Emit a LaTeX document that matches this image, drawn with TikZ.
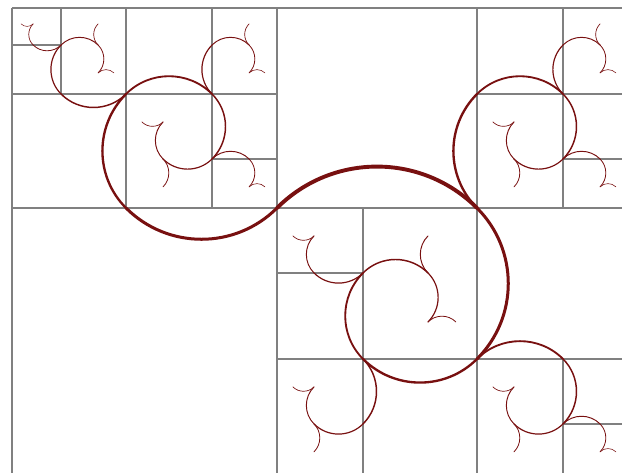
\documentclass[tikz,border=0pt]{standalone}
\usepackage{tikz}

\definecolor{curlred}{RGB}{120,16,16}

% one quarter arc, then its smooth continuation and its back branch
\newcommand\spiralarc[6]{%
  \draw[curlpath,line width=0.3pt+#4*0.018pt] (#1,#2) arc[start angle=#3+135,end angle=#3+45,radius=#4*0.70711];%
  \pgfmathsetmacro\spx{#1+#4*cos(#3)}%
  \pgfmathsetmacro\spy{#2+#4*sin(#3)}%
  \pgfmathsetmacro\spla{#4/1.324718}%
  \pgfmathsetmacro\splb{#4/1.754878}%
  \pgfmathsetmacro\spa{#3-90}%
  \pgfmathsetmacro\spb{#3+90}%
  \pgfmathtruncatemacro\spm{#5-1}%
  \edef\spgoa{\noexpand\spiralarc{\spx}{\spy}{\spa}{\spla}{\spm}{0}}%
  \edef\spgob{\noexpand\spiralarc{\spx}{\spy}{\spb}{\splb}{\spm}{1}}%
  \ifnum#5>0 {\spgoa}\fi
  \ifnum#6=0 {\spgob}\fi}

\begin{document}
\begin{tikzpicture}[x=1bp,y=1bp,gridline/.style={draw=black!50,line width=1.3bp},curlpath/.style={draw=curlred,line cap=round}]
\useasboundingbox (-277,-265) rectangle (345,208);
\clip (-277,-265) rectangle (345,208);
% rectangles
\draw[gridline] (-264.94,200)--(351,200) (-264.94,163)--(-215.93,163) (-264.94,113.97)--(0,113.97) (200,113.97)--(351,113.97);
\draw[gridline] (-64.95,49.03)--(0,49.03) (286.03,49.03)--(351,49.03) (-264.94,0)--(351,0) (0,-64.95)--(86.03,-64.95);
\draw[gridline] (0,-150.98)--(351,-150.98) (286.03,-215.93)--(351,-215.93);
\draw[gridline] (-264.94,200)--(-264.94,-280) (-215.93,200)--(-215.93,113.97) (-150.98,200)--(-150.98,0) (-64.95,200)--(-64.95,0);
\draw[gridline] (0,200)--(0,-280) (86.03,0)--(86.03,-280) (200,200)--(200,-280) (286.03,200)--(286.03,0) (286.03,-150.98)--(286.03,-280);
% spirals
\spiralarc{0}{0}{0}{200}{5}{0}
\spiralarc{0}{0}{180}{150.98}{5}{1}
\end{tikzpicture}
\end{document}
